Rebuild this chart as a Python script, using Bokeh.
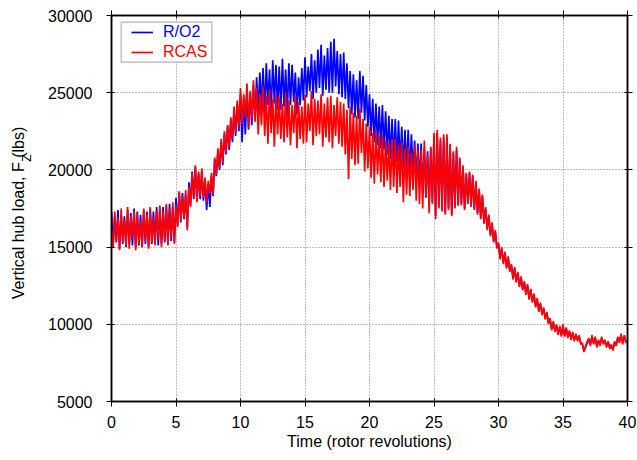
import numpy as np
from bokeh.plotting import figure
from bokeh.models import (LinearAxis, FixedTicker, Legend, LegendItem,
                          BoxAnnotation)
from bokeh.embed import file_html
from bokeh.resources import INLINE

# Vertical hub load Fz (lbs), sampled every 1/8 rotor revolution, one row per revolution
ro2_load = [
    17300, 15100, 17000, 15300, 17400, 14900, 17100, 15200,
    17000, 15000, 17400, 15200, 17200, 15100, 17500, 15000,
    17300, 15100, 17100, 15000, 17400, 15200, 17300, 15000,
    17500, 15200, 17300, 15300, 17600, 15100, 17500, 15200,
    17600, 15300, 17700, 15200, 17800, 15400, 17600, 15300,
    18200, 16400, 18600, 16600, 18500, 16800, 18400, 16300,
    19200, 17700, 19900, 18100, 20200, 18000, 19800, 18100,
    19900, 18000, 19300, 17400, 19100, 17600, 19600, 18300,
    20700, 19600, 21200, 20000, 21800, 20300, 22300, 21000,
    22800, 21300, 23300, 21800, 23900, 22200, 24300, 22500,
    24900, 21800, 24600, 22300, 25200, 22600, 25000, 22900,
    25500, 23300, 26000, 23800, 26300, 24000, 26600, 23700,
    26900, 24200, 26500, 23700, 27100, 24300, 26800, 23900,
    26700, 23900, 27200, 24100, 26500, 23600, 26900, 24200,
    26800, 24400, 26300, 23600, 26000, 24200, 26600, 24500,
    27300, 24700, 26700, 25100, 27500, 24600, 27100, 25000,
    27800, 25300, 28100, 24800, 27400, 25200, 27900, 25000,
    28300, 25000, 28500, 25400, 27700, 24900, 27500, 24700,
    27600, 24600, 26900, 24000, 26400, 23600, 26200, 23400,
    25800, 23300, 26400, 23700, 26100, 23200, 25500, 22800,
    24900, 22200, 24600, 21800, 24300, 21600, 24100, 21400,
    24200, 21300, 23800, 21000, 23500, 20700, 23300, 20500,
    23300, 20500, 23200, 20300, 22800, 20100, 22600, 19900,
    22600, 19600, 22300, 19800, 21900, 19200, 21700, 19000,
    21700, 18500, 21400, 18200, 21200, 18000, 21400, 17900,
    22200, 17000, 22400, 17600, 21900, 17400, 22100, 17200,
    22100, 17500, 21600, 17100, 21100, 17600, 21300, 17700,
    20700, 17800, 20200, 17500, 19700, 17900, 19800, 17700,
    19600, 17500, 19200, 17200, 18700, 16900, 18300, 16600,
    17500, 16200, 17000, 15800, 16500, 15400, 16000, 15000,
    15200, 14300, 14900, 14000, 14600, 13700, 14300, 13500,
    13800, 13000, 13600, 12800, 13300, 12500, 13000, 12300,
    12700, 12000, 12500, 11700, 12200, 11500, 11900, 11200,
    11600, 10900, 11300, 10700, 11000, 10400, 10700, 10100,
    10300, 9700, 10100, 9600, 9900, 9400, 9800, 9300,
    9900, 9300, 9700, 9200, 9500, 9100, 9400, 9000,
    9300, 9000, 9200, 8800, 8700, 8300, 8500, 8800,
    9000, 8700, 9200, 8800, 9100, 8600, 8900, 8700,
    9100, 8800, 8900, 8600, 8800, 8500, 8600, 8400,
    8800, 8700, 9100, 8900, 9300, 8800, 9200, 8900,
    8900,
]

rcas_load = [
    16000, 15000, 17300, 15400, 16900, 14800, 17500, 15300,
    16800, 15100, 17600, 14900, 17000, 15600, 17300, 14800,
    17200, 15200, 16700, 15000, 17500, 15400, 17100, 14900,
    17600, 15300, 16900, 15100, 17400, 15500, 17700, 15000,
    17300, 15400, 17800, 15100, 17500, 15600, 17900, 15200,
    17700, 16300, 18600, 16700, 18300, 16900, 18700, 16100,
    18900, 17600, 19800, 18200, 20300, 17900, 19900, 18300,
    20100, 18200, 19500, 17900, 19300, 18500, 19800, 18400,
    20800, 19700, 21400, 20100, 22000, 20500, 22500, 21100,
    22900, 21500, 23400, 22000, 24100, 22400, 24500, 22800,
    25300, 23000, 24900, 23400, 25600, 22700, 25100, 23300,
    25800, 23100, 25300, 22300, 24900, 22900, 25400, 22200,
    24800, 21700, 25200, 22400, 24600, 21500, 24900, 22300,
    24700, 22000, 24300, 21800, 25000, 22100, 24500, 21600,
    24200, 22400, 24800, 21400, 24400, 22000, 24100, 21700,
    24900, 21800, 24300, 22500, 25100, 21600, 24600, 22200,
    24500, 22300, 24900, 21500, 24300, 22100, 24700, 21800,
    24800, 21400, 24200, 22200, 24700, 21700, 24400, 21500,
    24300, 21000, 23900, 19400, 24100, 20700, 23700, 20300,
    23500, 20400, 24000, 21100, 23300, 19900, 23000, 20100,
    22800, 19500, 22400, 19100, 22600, 19700, 22200, 19200,
    22300, 18900, 21900, 19300, 21700, 18700, 22000, 18900,
    22000, 18500, 21600, 18900, 21800, 17900, 21400, 18400,
    21500, 18300, 21100, 18700, 21600, 18000, 21300, 17800,
    21300, 17500, 21900, 18300, 21000, 17200, 21500, 17800,
    22400, 16800, 22600, 17500, 22100, 17300, 22300, 17100,
    22300, 17400, 21700, 17000, 21200, 17500, 21500, 17700,
    20800, 17700, 20300, 17400, 19800, 17800, 19900, 17600,
    19700, 17400, 19300, 17100, 18800, 16800, 18400, 16500,
    17600, 16100, 17100, 15700, 16600, 15300, 16100, 14900,
    15300, 14200, 15000, 13900, 14700, 13600, 14400, 13400,
    13900, 12900, 13700, 12700, 13400, 12400, 13100, 12200,
    12800, 11900, 12600, 11600, 12300, 11400, 12000, 11100,
    11700, 10800, 11400, 10600, 11100, 10300, 10800, 10000,
    10400, 9600, 10200, 9500, 10000, 9300, 9900, 9200,
    10000, 9200, 9800, 9100, 9600, 9000, 9500, 8900,
    9400, 8900, 9300, 8700, 8800, 8200, 8600, 8900,
    9100, 8600, 9300, 8700, 9200, 8500, 9000, 8600,
    9200, 8700, 9000, 8500, 8900, 8400, 8700, 8300,
    8900, 8600, 9200, 8800, 9400, 8700, 9300, 8800,
    8900,
]

x_ticks = [0, 5, 10, 15, 20, 25, 30, 35, 40]
y_ticks = [5000, 10000, 15000, 20000, 25000, 30000]
series_names = ["R/O2", "RCAS"]
series_colors = ["#0000ff", "#ff0000"]
y_title = "Vertical hub load, F   (lbs)"
y_title_sub = "Z"

FONT = "Liberation Sans"

t_ro2 = np.linspace(0, 40, len(ro2_load))
t_rcas = np.linspace(0, 40, len(rcas_load))

p = figure(width=637, height=460, x_range=(0, 40), y_range=(5000, 30000),
           output_backend="svg", toolbar_location=None,
           min_border_left=111, min_border_right=10,
           min_border_top=15, min_border_bottom=59)
p.background_fill_color = "white"
p.border_fill_color = "white"
p.outline_line_color = "black"
p.outline_line_width = 1.5

r_ro2 = p.line(t_ro2, ro2_load, line_color=series_colors[0], line_width=1.7)
r_rcas = p.line(t_rcas, rcas_load, line_color=series_colors[1], line_width=1.7)

# dotted grid at the major ticks
for g in (p.xgrid, p.ygrid):
    g.grid_line_color = "#7f7f7f"
    g.grid_line_dash = "1 2"
    g.grid_line_width = 1
p.xgrid.ticker = FixedTicker(ticks=x_ticks)
p.ygrid.ticker = FixedTicker(ticks=y_ticks)

# main axes
p.xaxis.ticker = FixedTicker(ticks=x_ticks)
p.yaxis.ticker = FixedTicker(ticks=y_ticks)
for ax in (p.xaxis[0], p.yaxis[0]):
    ax.major_label_text_font = FONT
    ax.major_label_text_font_size = "16px"
    ax.major_label_text_color = "black"
    ax.axis_line_color = "black"
    ax.axis_line_width = 1.5
    ax.major_tick_line_color = "black"
    ax.major_tick_line_width = 1
    ax.major_tick_out = 5
    ax.major_tick_in = 3
    ax.minor_tick_line_color = None
p.xaxis.axis_label = "Time (rotor revolutions)"
p.xaxis.axis_label_text_font = FONT
p.xaxis.axis_label_text_font_size = "16px"
p.xaxis.axis_label_text_font_style = "normal"
p.xaxis.axis_label_text_color = "black"
p.xaxis.axis_label_standoff = 2
p.xaxis.major_label_standoff = 9
p.yaxis.major_label_standoff = 14

# mirrored ticks on top and right (no labels)
top_ax = LinearAxis(ticker=FixedTicker(ticks=x_ticks),
                    major_label_overrides={t: "" for t in x_ticks})
right_ax = LinearAxis(ticker=FixedTicker(ticks=y_ticks),
                      major_label_overrides={t: "" for t in y_ticks})
for ax in (top_ax, right_ax):
    ax.major_label_text_font_size = "0px"
    ax.major_label_standoff = 0
    ax.axis_line_color = "black"
    ax.axis_line_width = 1.5
    ax.major_tick_line_color = "black"
    ax.major_tick_out = 5
    ax.major_tick_in = 3
    ax.minor_tick_line_color = None
p.add_layout(top_ax, "above")
p.add_layout(right_ax, "right")

# y title: an outer axis without line or ticks carries the title text,
# its single tick label supplies the subscript after "F"
sub_at = 20760
title_ax = LinearAxis(ticker=FixedTicker(ticks=[sub_at]),
                      major_label_overrides={sub_at: y_title_sub})
title_ax.axis_line_color = None
title_ax.major_tick_line_color = None
title_ax.minor_tick_line_color = None
title_ax.major_tick_out = 0
title_ax.major_tick_in = 0
title_ax.major_label_orientation = "vertical"
title_ax.major_label_text_font = FONT
title_ax.major_label_text_font_size = "12px"
title_ax.major_label_text_color = "black"
title_ax.major_label_standoff = 11
title_ax.axis_label = y_title
title_ax.axis_label_text_font = FONT
title_ax.axis_label_text_font_size = "16px"
title_ax.axis_label_text_font_style = "normal"
title_ax.axis_label_text_color = "black"
title_ax.axis_label_standoff = -9
p.add_layout(title_ax, "left")

# legend frame
p.add_layout(BoxAnnotation(left=0.75, right=7.78, bottom=26976, top=29566,
                           fill_color="white", fill_alpha=1.0,
                           line_color="black", line_width=1.2))

# one legend per series so each label takes its series colour
leg_kw = dict(padding=0, margin=0, spacing=0, glyph_width=22, glyph_height=20,
              label_height=20, label_standoff=10, label_text_font=FONT,
              label_text_font_size="16px", border_line_color=None,
              background_fill_alpha=0.0)
leg_a = Legend(items=[LegendItem(label=series_names[0], renderers=[r_ro2])],
               location=(20, 359), label_text_color=series_colors[0], **leg_kw)
leg_b = Legend(items=[LegendItem(label=series_names[1], renderers=[r_rcas])],
               location=(20, 339), label_text_color=series_colors[1], **leg_kw)
p.add_layout(leg_a)
p.add_layout(leg_b)

open("out.html", "w").write(file_html(p, INLINE))
